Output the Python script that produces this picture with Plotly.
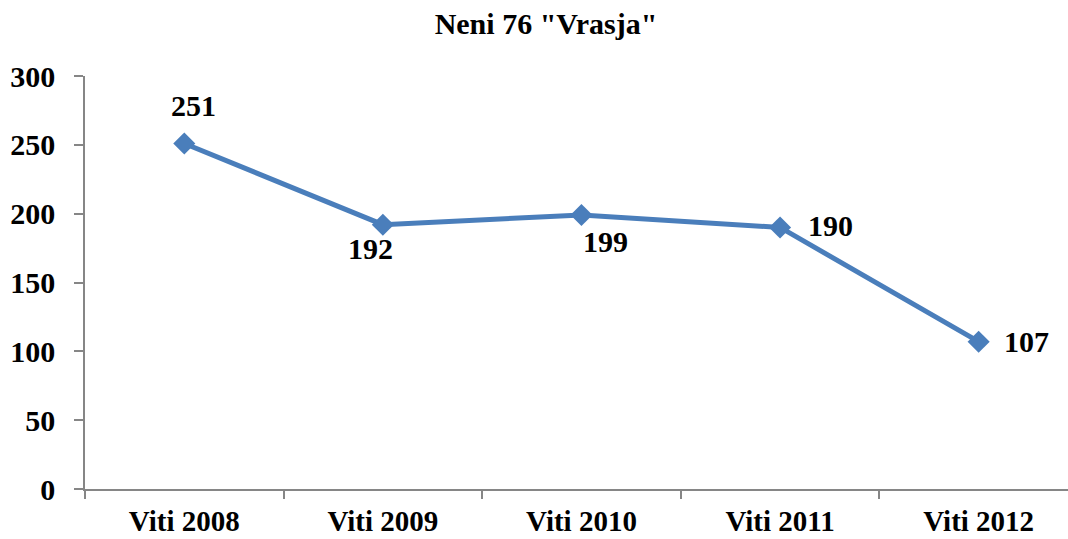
import plotly.graph_objects as go

categories = ["Viti 2008", "Viti 2009", "Viti 2010", "Viti 2011", "Viti 2012"]
values = [251, 192, 199, 190, 107]
label_texts = ["251", "192", "199", "190", "107"]
title_text = 'Neni 76 "Vrasja"'
y_ticks = [0, 50, 100, 150, 200, 250, 300]

# label offsets (styling)
label_xshift = [9, -12, 24, 50, 48]
label_yshift = [38, -24, -26, 2, 0]

FONT = "Liberation Serif"
AXIS_COLOR = "#868686"
LINE_COLOR = "#4a7ebb"

fig = go.Figure()
fig.add_trace(go.Scatter(
    x=categories, y=values, mode="lines+markers",
    line=dict(color=LINE_COLOR, width=5),
    marker=dict(symbol="diamond", size=17, color=LINE_COLOR),
    hoverinfo="x+y", showlegend=False,
))

for c, v, t, xs, ys in zip(categories, values, label_texts, label_xshift, label_yshift):
    fig.add_annotation(x=c, y=v, text="<b>%s</b>" % t, showarrow=False,
                       xshift=xs, yshift=ys,
                       font=dict(family=FONT, size=30, color="black"))

fig.update_layout(
    width=1068, height=539,
    margin=dict(l=85, r=0, t=76, b=50, autoexpand=False),
    paper_bgcolor="white", plot_bgcolor="white",
    title=dict(text="<b>%s</b>" % title_text, x=546 / 1068, xanchor="center",
               y=1 - 23 / 539, yanchor="middle",
               font=dict(family=FONT, size=30, color="black")),
    font=dict(family=FONT, color="black"),
)

fig.update_xaxes(
    type="category", range=[-0.5, 4.45], tickson="boundaries",
    showline=True, linecolor=AXIS_COLOR, linewidth=1.5,
    ticks="outside", ticklen=8, tickcolor=AXIS_COLOR, tickwidth=1.5,
    showgrid=False, zeroline=False, automargin=False,
    tickfont=dict(family=FONT, size=29, color="black"),
    ticklabelstandoff=5,
    tickprefix="<b>", ticksuffix="</b>",
)
fig.update_yaxes(
    range=[0, 300], tickvals=y_ticks, ticktext=["<b>%d</b>" % t for t in y_ticks],
    showline=True, linecolor=AXIS_COLOR, linewidth=1.5,
    ticks="outside", ticklen=9, tickcolor=AXIS_COLOR, tickwidth=1.5,
    showgrid=False, zeroline=False, automargin=False,
    tickfont=dict(family=FONT, size=30, color="black"),
    ticklabelstandoff=13,
)

fig.write_html("out.html", config={"displayModeBar": False},
               post_script="document.body.style.margin='0';document.body.style.overflow='hidden';")
